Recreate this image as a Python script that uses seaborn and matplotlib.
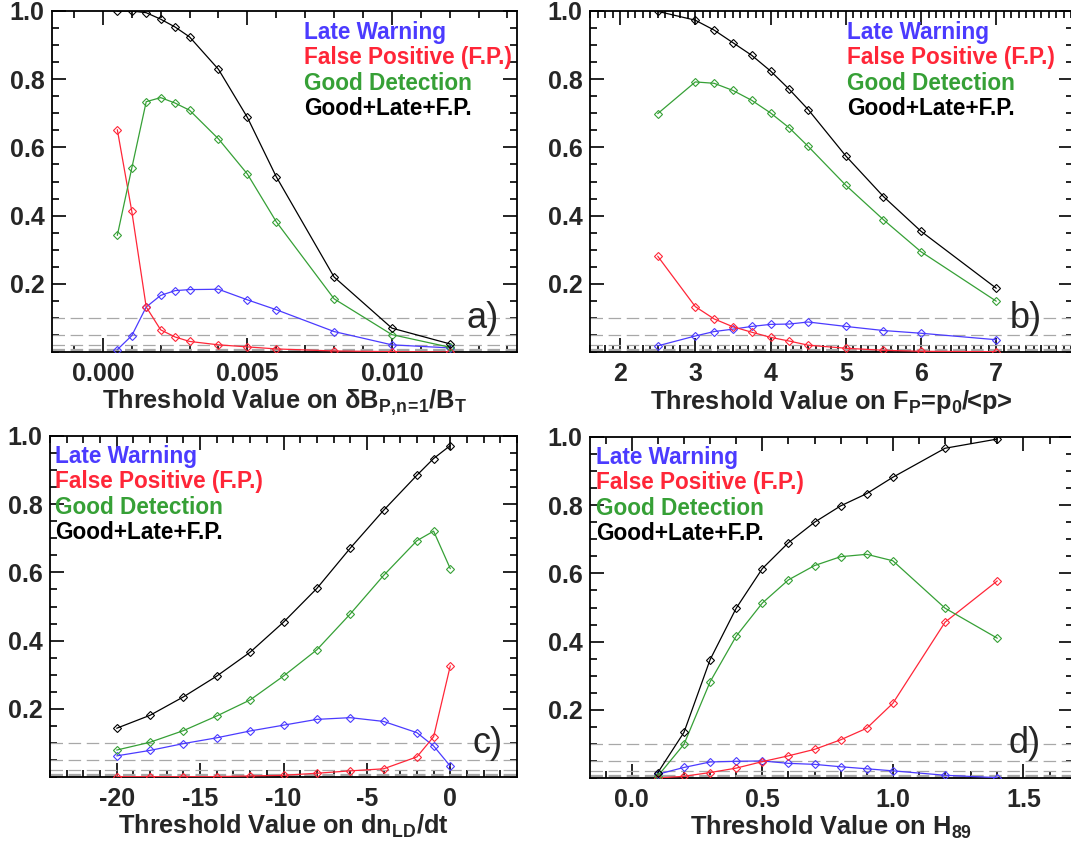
import matplotlib
matplotlib.use("Agg")
import matplotlib.pyplot as plt
import matplotlib.ticker as mticker
import seaborn as sns
import pandas as pd

# ---- data ---------------------------------------------------------------
# panel a: threshold on dB_P,n=1 / B_T
a_x = [0.0005, 0.001, 0.0015, 0.002, 0.0025, 0.003, 0.004, 0.005, 0.006, 0.008, 0.010, 0.012]
a_late = [0.007, 0.048, 0.132, 0.166, 0.180, 0.183, 0.184, 0.153, 0.124, 0.060, 0.021, 0.012]
a_fp = [0.652, 0.413, 0.132, 0.065, 0.044, 0.031, 0.021, 0.015, 0.009, 0.003, 0.001, 0.0]
a_good = [0.342, 0.539, 0.734, 0.746, 0.730, 0.709, 0.625, 0.522, 0.382, 0.156, 0.051, 0.014]
a_total = [1.0, 1.0, 0.995, 0.976, 0.953, 0.924, 0.829, 0.688, 0.514, 0.220, 0.070, 0.024]

# panel b: threshold on F_P = p0/<p>
b_x = [2.5, 3.0, 3.25, 3.5, 3.75, 4.0, 4.25, 4.5, 5.0, 5.5, 6.0, 7.0]
b_late = [0.018, 0.047, 0.060, 0.067, 0.075, 0.081, 0.082, 0.088, 0.075, 0.063, 0.055, 0.036]
b_fp = [0.281, 0.133, 0.097, 0.074, 0.058, 0.043, 0.032, 0.020, 0.011, 0.005, 0.002, 0.001]
b_good = [0.699, 0.792, 0.788, 0.767, 0.738, 0.701, 0.657, 0.603, 0.489, 0.388, 0.294, 0.149]
b_total = [0.999, 0.973, 0.944, 0.907, 0.870, 0.824, 0.770, 0.711, 0.575, 0.456, 0.354, 0.187]

# panel c: threshold on dn_LD/dt
c_x = [-20, -18, -16, -14, -12, -10, -8, -6, -4, -2, -1, 0]
c_late = [0.062, 0.078, 0.098, 0.115, 0.135, 0.152, 0.169, 0.174, 0.163, 0.130, 0.091, 0.032]
c_fp = [0.001, 0.001, 0.001, 0.001, 0.003, 0.005, 0.011, 0.018, 0.024, 0.059, 0.118, 0.326]
c_good = [0.079, 0.102, 0.136, 0.179, 0.226, 0.296, 0.373, 0.478, 0.591, 0.693, 0.721, 0.611]
c_total = [0.143, 0.181, 0.235, 0.296, 0.366, 0.454, 0.553, 0.671, 0.782, 0.885, 0.934, 0.972]

# panel d: threshold on H89
d_x = [0.1, 0.2, 0.3, 0.4, 0.5, 0.6, 0.7, 0.8, 0.9, 1.0, 1.2, 1.4]
d_late = [0.011, 0.031, 0.047, 0.049, 0.050, 0.043, 0.040, 0.033, 0.027, 0.021, 0.008, 0.001]
d_fp = [0.0, 0.005, 0.016, 0.029, 0.048, 0.065, 0.084, 0.112, 0.146, 0.219, 0.457, 0.578]
d_good = [0.006, 0.099, 0.282, 0.416, 0.513, 0.581, 0.623, 0.649, 0.656, 0.637, 0.498, 0.410]
d_total = [0.016, 0.134, 0.347, 0.498, 0.614, 0.690, 0.750, 0.798, 0.834, 0.882, 0.967, 0.994]

series_names = ["Late Warning", "False Positive (F.P.)", "Good Detection", "Good+Late+F.P."]
ref_levels = [0.1, 0.05, 0.02, 0.01, 0.005, 0.002]

COLORS = ["#4B3BFF", "#FF2638", "#36A036", "#000000"]
W, H = 1071, 851

sns.set_style("ticks")
plt.rcParams["font.family"] = ["Liberation Sans", "DejaVu Sans"]
plt.rcParams["font.weight"] = "bold"
plt.rcParams["mathtext.fontset"] = "custom"
plt.rcParams["mathtext.rm"] = "Liberation Sans:bold"
plt.rcParams["mathtext.it"] = "Liberation Sans:bold"
plt.rcParams["mathtext.bf"] = "Liberation Sans:bold"

# per panel: data, axes box in pixels (left, top, right, bottom), x range, ticks, labels
panels = [
    dict(x=a_x, ys=[a_late, a_fp, a_good, a_total], box=(52, 11, 517, 352),
         xlim=(-0.00176, 0.01433), xticks=[0.0, 0.005, 0.010], xminor=0.001, xfmt="{:.3f}",
         xlabel=r"Threshold Value on δB$_{\mathrm{P,\!n\!=\!1}}$/B$_{\mathrm{T}}$",
         leg=(304, 39), tag="a)", tag_pos=(467, 328)),
    dict(x=b_x, ys=[b_late, b_fp, b_good, b_total], box=(590, 11, 1073, 352),
         xlim=(1.6, 8.02), xticks=[2, 3, 4, 5, 6, 7], xminor=0.1, xfmt="{:.0f}",
         xlabel=r"Threshold Value on F$_{\mathrm{P}}$=p$_{\mathrm{0}}$/<p>",
         leg=(847, 39), tag="b)", tag_pos=(1010, 328)),
    dict(x=c_x, ys=[c_late, c_fp, c_good, c_total], box=(50, 436, 517, 777),
         xlim=(-24, 4), xticks=[-20, -15, -10, -5, 0], xminor=1, xfmt="{:.0f}",
         xlabel=r"Threshold Value on dn$_{\mathrm{LD}}$/dt",
         leg=(55, 463), tag="c)", tag_pos=(473, 753)),
    dict(x=d_x, ys=[d_late, d_fp, d_good, d_total], box=(590, 437, 1073, 778),
         xlim=(-0.16, 1.69), xticks=[0.0, 0.5, 1.0, 1.5], xminor=0.1, xfmt="{:.1f}",
         xlabel=r"Threshold Value on H$_{\mathrm{89}}$",
         leg=(596, 464), tag="d)", tag_pos=(1009, 753)),
]

fig = plt.figure(figsize=(W / 100, H / 100), dpi=100)

for p in panels:
    l, t, r, b = p["box"]
    ax = fig.add_axes([l / W, 1 - b / H, (r - l) / W, (b - t) / H])

    for lev in ref_levels:
        ax.axhline(lev, color="#A8A8A8", lw=0.9, ls=(0, (10, 4.5)), zorder=1)

    for name, ys, col in zip(series_names, p["ys"], COLORS):
        df = pd.DataFrame({"threshold": p["x"], "fraction": ys})
        sns.lineplot(data=df, x="threshold", y="fraction", ax=ax, color=col,
                     linewidth=0.9, marker="D", markersize=4.3,
                     markerfacecolor="none", markeredgecolor=col,
                     markeredgewidth=0.8, legend=False, zorder=3)

    ax.set_xlim(*p["xlim"])
    ax.set_ylim(0, 1.0)
    ax.set_xticks(p["xticks"])
    ax.set_xticklabels([p["xfmt"].format(v) for v in p["xticks"]])
    ax.set_yticks([0.2, 0.4, 0.6, 0.8, 1.0])
    ax.set_yticklabels(["0.2", "0.4", "0.6", "0.8", "1.0"])
    ax.xaxis.set_minor_locator(mticker.MultipleLocator(p["xminor"]))
    ax.yaxis.set_minor_locator(mticker.MultipleLocator(0.05))
    ax.tick_params(which="both", direction="in", top=True, right=True,
                   width=1.2, labelsize=18, color="black")
    ax.tick_params(which="major", length=10)
    ax.tick_params(which="minor", length=5)
    ax.tick_params(axis="x", pad=7)
    ax.tick_params(axis="y", pad=5.5)
    for s in ax.spines.values():
        s.set_linewidth(1.3)
        s.set_color("black")
    ax.set_xlabel(p["xlabel"], fontsize=18.3, fontweight="bold", labelpad=1.5)
    ax.set_ylabel("")

    lx, ly = p["leg"]
    for i, (name, col) in enumerate(zip(series_names, COLORS)):
        fig.text(lx / W, 1 - (ly + i * 25.3) / H, name, color=col, fontsize=16.3,
                 fontweight="bold", ha="left", va="baseline")

    tx, ty = p["tag_pos"]
    fig.text(tx / W, 1 - ty / H, p["tag"], fontsize=26, fontweight="normal",
             ha="left", va="baseline")

fig.savefig("out.png", dpi=100)
